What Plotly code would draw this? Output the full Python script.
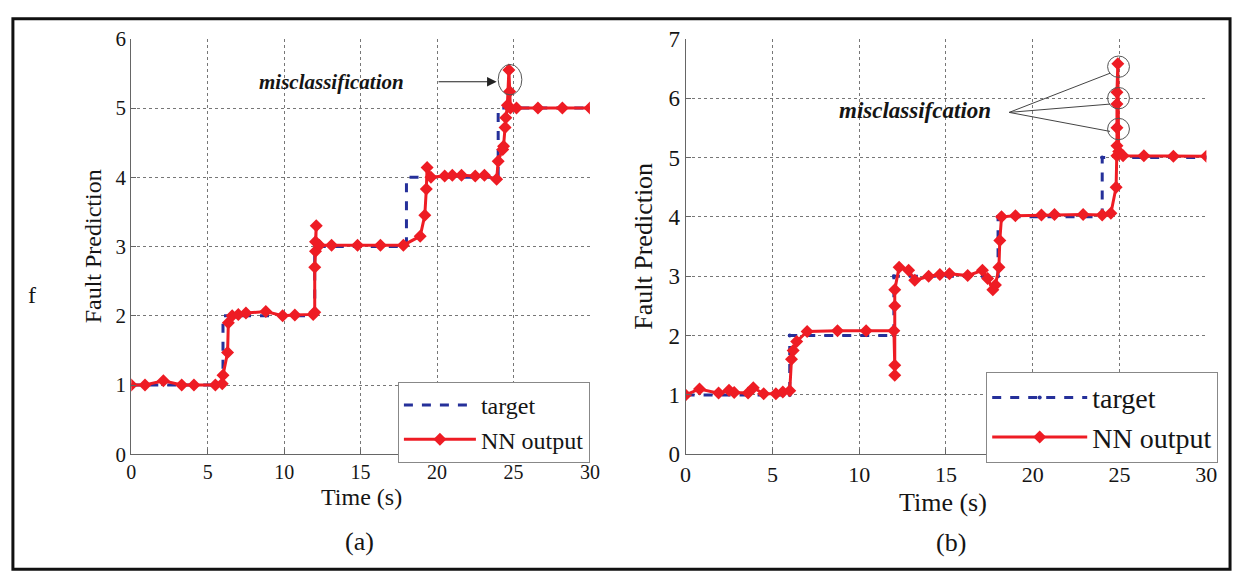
import plotly.graph_objects as go

# ---------------- data ----------------
target_t = [0, 6, 6, 12, 12, 18, 18, 24, 24, 30]
target_a = [1, 1, 2, 2, 3, 3, 4, 4, 5, 5]
target_b = [1, 1, 2, 2, 3, 3, 4, 4, 5, 5]

nn_a_t = [0, 0.9, 2.1, 3.3, 4.1, 5.5, 5.95, 6.0, 6.3, 6.35, 6.6, 7.0, 7.5, 8.8, 9.9, 10.7, 11.9,
          12.0, 12.0, 12.05, 12.1, 12.05, 12.3, 13.1, 14.8, 16.3, 17.8, 18.9, 19.2, 19.3, 19.35,
          19.6, 20.5, 21.0, 21.6, 22.5, 23.1, 23.9, 24.0, 24.3, 24.35, 24.45, 24.5, 24.6, 24.7,
          24.75, 24.8, 25.2, 26.6, 28.2, 30]
nn_a_y = [1.0, 1.0, 1.06, 1.0, 1.0, 1.0, 1.02, 1.14, 1.47, 1.9, 2.0, 2.02, 2.04, 2.06, 2.0, 2.01, 2.02,
          2.05, 2.7, 2.93, 3.3, 3.07, 3.02, 3.02, 3.02, 3.02, 3.02, 3.15, 3.45, 3.83, 4.14,
          4.0, 4.02, 4.03, 4.03, 4.02, 4.03, 3.97, 4.23, 4.4, 4.45, 4.72, 4.86, 5.04, 5.55,
          5.24, 5.0, 5.0, 5.0, 5.0, 5.0]

nn_b_t = [0, 0.8, 1.9, 2.5, 2.8, 3.6, 3.9, 4.5, 5.2, 5.6, 6.0, 6.1, 6.2, 6.4, 7.0, 8.75, 10.4, 12.0,
          12.05, 12.05, 12.05, 12.05, 12.3, 12.85, 13.2, 14.0, 14.65, 15.2, 16.25, 17.1, 17.4, 17.7,
          17.85, 18.05, 18.1, 18.2, 19.0, 20.5, 21.25, 22.9, 24.0, 24.5, 24.8, 24.85, 24.85, 24.85,
          24.85, 24.85, 24.9, 24.95, 25.2, 26.4, 28.1, 30]
nn_b_y = [1.0, 1.1, 1.03, 1.08, 1.04, 1.03, 1.12, 1.02, 1.02, 1.05, 1.07, 1.6, 1.75, 1.9, 2.07, 2.08, 2.08, 2.08,
          1.5, 1.33, 2.5, 2.77, 3.15, 3.1, 2.93, 3.0, 3.03, 3.04, 3.01, 3.1, 2.96, 2.77,
          2.85, 3.15, 3.6, 4.0, 4.02, 4.03, 4.04, 4.04, 4.03, 4.06, 4.5, 5.03, 5.2, 5.5,
          5.9, 6.1, 6.58, 5.1, 5.03, 5.03, 5.02, 5.02]

x_ticks = [0, 5, 10, 15, 20, 25, 30]
y_ticks_a = [0, 1, 2, 3, 4, 5, 6]
y_ticks_b = [0, 1, 2, 3, 4, 5, 6, 7]

# ---------------- style ----------------
SERIF = "Liberation Serif"
BLUE = "#25309a"
RED = "#ee1c24"
INK = "#151515"
W, H = 1244, 585

def px_x(p):
    return p / W

def px_y(p):
    return 1 - p / H

fig = go.Figure()

fig.add_trace(go.Scatter(x=target_t, y=target_a, mode="lines", name="target",
                         line=dict(color=BLUE, width=3, dash="dash"),
                         xaxis="x", yaxis="y", legend="legend"))
fig.add_trace(go.Scatter(x=nn_a_t, y=nn_a_y, mode="lines+markers", name="NN output",
                         line=dict(color=RED, width=3),
                         marker=dict(symbol="diamond", size=10, color=RED),
                         xaxis="x", yaxis="y", legend="legend"))
fig.add_trace(go.Scatter(x=target_t, y=target_b, mode="lines+markers", name="target",
                         line=dict(color=BLUE, width=3, dash="dash"),
                         marker=dict(symbol="circle", size=4, color=BLUE),
                         xaxis="x2", yaxis="y2", legend="legend2"))
fig.add_trace(go.Scatter(x=nn_b_t, y=nn_b_y, mode="lines+markers", name="NN output",
                         line=dict(color=RED, width=3),
                         marker=dict(symbol="diamond", size=10, color=RED),
                         xaxis="x2", yaxis="y2", legend="legend2"))

axis_common = dict(showline=True, linecolor="#666", linewidth=1, ticks="inside", ticklen=5,
                   tickcolor="#666", showgrid=True, gridcolor="#777", griddash="dot", gridwidth=1,
                   zeroline=False, mirror=False)

ya_dom = [px_y(462), px_y(28)]
fig.update_layout(
    width=W, height=H, margin=dict(l=0, r=0, t=0, b=0),
    paper_bgcolor="white", plot_bgcolor="white", showlegend=True,
    font=dict(family=SERIF, color=INK),
    xaxis=dict(domain=[px_x(127), px_x(592)], range=[0, 30], tickvals=x_ticks, anchor="y",
               tickfont=dict(family=SERIF, size=20, color=INK), **axis_common),
    yaxis=dict(domain=ya_dom, range=[0, 6], tickvals=y_ticks_a, anchor="x",
               tickfont=dict(family=SERIF, size=21, color=INK), **axis_common),
    xaxis2=dict(domain=[px_x(689), px_x(1217)], range=[0, 30], tickvals=x_ticks, anchor="y2",
                tickfont=dict(family=SERIF, size=22, color=INK), **axis_common),
    yaxis2=dict(domain=ya_dom, range=[0, 7], tickvals=y_ticks_b, anchor="x2",
                tickfont=dict(family=SERIF, size=23, color=INK), **axis_common),
    legend=dict(x=px_x(592), y=px_y(471), xanchor="right", yanchor="bottom",
                bgcolor="white", bordercolor="#888", borderwidth=1, itemwidth=72,
                font=dict(family=SERIF, size=24, color=INK), tracegroupgap=4),
    legend2=dict(x=px_x(1229), y=px_y(471), xanchor="right", yanchor="bottom",
                 bgcolor="white", bordercolor="#888", borderwidth=1, itemwidth=95,
                 font=dict(family=SERIF, size=28, color=INK), tracegroupgap=4),
)

annotations = [
    dict(text="Fault Prediction", x=px_x(88), y=px_y(245), textangle=-90,
         font=dict(family=SERIF, size=24, color=INK)),
    dict(text="Fault Prediction", x=px_x(646), y=px_y(245), textangle=-90,
         font=dict(family=SERIF, size=26, color=INK)),
    dict(text="Time (s)", x=px_x(360), y=px_y(507), font=dict(family=SERIF, size=24, color=INK)),
    dict(text="Time (s)", x=px_x(950), y=px_y(512), font=dict(family=SERIF, size=26, color=INK)),
    dict(text="(a)", x=px_x(358), y=px_y(553), font=dict(family=SERIF, size=26, color=INK)),
    dict(text="(b)", x=px_x(958), y=px_y(554), font=dict(family=SERIF, size=26, color=INK)),
    dict(text="f", x=px_x(26), y=px_y(296), font=dict(family=SERIF, size=24, color=INK)),
]
for a in annotations:
    a.update(xref="paper", yref="paper", showarrow=False, xanchor="center", yanchor="middle")

# misclassification labels
annotations.append(dict(text="<b><i>misclassification</i></b>", xref="x", yref="y", x=13.1, y=5.38,
                        showarrow=False, font=dict(family=SERIF, size=21, color=INK)))
annotations.append(dict(text="", xref="x", yref="y", x=23.9, y=5.38, ax=20.0, ay=5.38,
                        axref="x", ayref="y", showarrow=True, arrowhead=2, arrowsize=1.6,
                        arrowwidth=1.2, arrowcolor="#222"))
annotations.append(dict(text="<b><i>misclassifcation</i></b>", xref="x2", yref="y2", x=13.2, y=5.79,
                        showarrow=False, font=dict(family=SERIF, size=23, color=INK)))
fig.update_layout(annotations=annotations)

shapes = [
    dict(type="rect", xref="paper", yref="paper", x0=px_x(7), x1=px_x(1241), y0=px_y(582), y1=px_y(7),
         line=dict(color="#111", width=3)),
    dict(type="circle", xref="x", yref="y", x0=24.0, x1=25.55, y0=5.19, y1=5.63,
         line=dict(color="#555", width=1)),
]
for cy in (6.53, 6.0, 5.48):
    shapes.append(dict(type="circle", xref="x2", yref="y2", x0=24.31, x1=25.57, y0=cy - 0.18, y1=cy + 0.18,
                       line=dict(color="#555", width=1)))
for ey in (6.42, 5.9, 5.44):
    shapes.append(dict(type="line", xref="x2", yref="y2", x0=18.64, y0=5.76, x1=24.45, y1=ey,
                       line=dict(color="#444", width=1)))
fig.update_layout(shapes=shapes)

fig.write_html("out.html")
